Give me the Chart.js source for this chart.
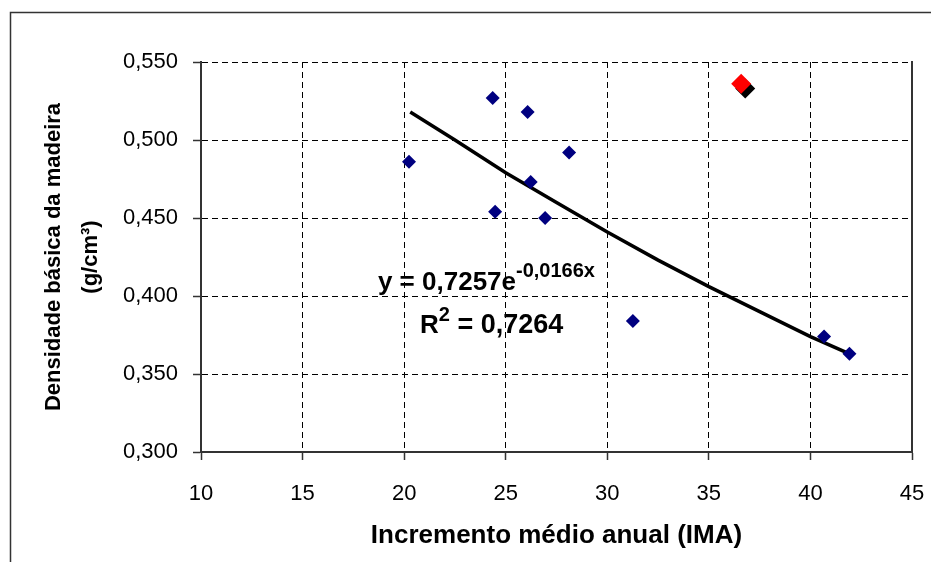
<!DOCTYPE html>
<html>
<head>
<meta charset="utf-8">
<script src="https://cdn.jsdelivr.net/npm/chart.js@4.4.1/dist/chart.umd.min.js"></script>
<style>
  html, body { margin: 0; background: #fff; }
  canvas { display: block; }
</style>
</head>
<body>
<canvas id="grafico" width="931" height="562"></canvas>
<script>
// dados (IMA x densidade básica)
const imaX  = [20.24, 24.36, 26.08, 28.12, 26.23, 24.48, 26.94, 31.26, 40.67, 41.92];
const densY = [0.486, 0.527, 0.518, 0.492, 0.473, 0.454, 0.450, 0.384, 0.374, 0.363];
// ponto destacado (vermelho) e a sua sombra preta
const destaqueX = [36.59];
const destaqueY = [0.536];
const sombraX = [36.79];
const sombraY = [0.533];
// linha de tendência exponencial, lida ao longo da curva
const tendX = [20.3, 22.5, 25, 27.5, 30, 32.5, 35, 37.5, 40, 41.9];
const tendY = [0.518, 0.500, 0.479, 0.460, 0.441, 0.423, 0.406, 0.390, 0.374, 0.363];
// eixos
const xMin = 10, xMax = 45, xPasso = 5;
const yMin = 0.300, yMax = 0.550, yPasso = 0.05;

const pares = (xs, ys) => xs.map((x, i) => ({ x, y: ys[i] }));

const TXT = 'Liberation Sans, Arial, sans-serif';

// moldura externa do gráfico
const moldura = {
  id: 'moldura',
  beforeDraw(chart) {
    const ctx = chart.ctx;
    ctx.save();
    ctx.fillStyle = '#fff';
    ctx.fillRect(0, 0, chart.width, chart.height);
    ctx.strokeStyle = '#333';
    ctx.lineWidth = 1.5;
    ctx.strokeRect(10.5, 12.5, 1000, 1000);
    ctx.restore();
  }
};

// equação e R² da tendência
const equacao = {
  id: 'equacao',
  afterDatasetsDraw(chart, args, o) {
    const ctx = chart.ctx, sx = chart.scales.x, sy = chart.scales.y;
    ctx.save();
    ctx.fillStyle = '#000';
    ctx.textBaseline = 'alphabetic';
    ctx.textAlign = 'left';
    const big = 'bold 26px ' + TXT, small = 'bold 20px ' + TXT;
    // linha 1
    let x = sx.getPixelForValue(o.l1[0]), y = sy.getPixelForValue(o.l1[1]);
    ctx.font = big;
    ctx.fillText('y = 0,7257e', x, y);
    x += ctx.measureText('y = 0,7257e').width;
    ctx.font = small;
    ctx.fillText('-0,0166x', x, y - 13);
    // linha 2
    x = sx.getPixelForValue(o.l2[0]); y = sy.getPixelForValue(o.l2[1]);
    ctx.font = big;
    ctx.fillText('R', x, y);
    x += ctx.measureText('R').width;
    ctx.font = small;
    ctx.fillText('2', x, y - 12);
    x += ctx.measureText('2').width;
    ctx.font = 'bold 27px ' + TXT;
    ctx.fillText(' = 0,7264', x, y);
    ctx.restore();
  }
};

new Chart(document.getElementById('grafico'), {
  type: 'scatter',
  data: {
    datasets: [
      { label: 'tendência', type: 'line', data: pares(tendX, tendY), borderColor: '#000', borderWidth: 3.5,
        pointRadius: 0, fill: false, tension: 0, order: 3 },
      { label: 'sombra', data: pares(sombraX, sombraY), pointStyle: 'rectRot', pointRadius: 10,
        backgroundColor: '#000', borderColor: '#000', borderWidth: 0, order: 2 },
      { label: 'amostras', data: pares(imaX, densY), pointStyle: 'rectRot', pointRadius: 7,
        backgroundColor: '#000080', borderColor: '#000080', borderWidth: 0, order: 1 },
      { label: 'destaque', data: pares(destaqueX, destaqueY), pointStyle: 'rectRot', pointRadius: 10,
        backgroundColor: '#ff0000', borderColor: '#ff0000', borderWidth: 0, order: 0 }
    ]
  },
  options: {
    responsive: false,
    animation: false,
    layout: { padding: { left: 20, top: 62, right: 0, bottom: 0 } },
    plugins: {
      legend: { display: false },
      tooltip: { enabled: false },
      equacao: { l1: [18.71, 0.4038], l2: [20.78, 0.3763] }
    },
    scales: {
      x: {
        type: 'linear', position: 'bottom', min: xMin, max: xMax,
        afterFit: s => { s.height = 110; s.paddingLeft = 0; s.paddingRight = 0; },
        ticks: { stepSize: xPasso, autoSkip: false, maxRotation: 0, padding: 21, color: '#000',
                 font: { family: TXT, size: 22 } },
        grid: { color: '#000', lineWidth: 1, tickLength: 8, tickColor: '#333', tickWidth: 1.5 },
        border: { color: '#333', width: 2, dash: [6, 4] },
        title: { display: true, text: 'Incremento médio anual (IMA)', color: '#000',
                 font: { family: TXT, size: 26, weight: 'bold', lineHeight: 1.2 }, padding: { top: 0, bottom: 11 } }
      },
      y: {
        type: 'linear', position: 'left', min: yMin, max: yMax,
        afterFit: s => { s.width = 181; s.paddingTop = 0; s.paddingBottom = 0; },
        ticks: { stepSize: yPasso, padding: 15, color: '#000',
                 font: { family: TXT, size: 22 },
                 callback: v => v.toFixed(3).replace('.', ',') },
        grid: { color: '#000', lineWidth: 1, tickLength: 8, tickColor: '#333', tickWidth: 1.5 },
        border: { color: '#333', width: 2, dash: [6, 4] },
        title: { display: true, text: ['Densidade básica da madeira', '(g/cm³)'], color: '#000',
                 font: { family: TXT, size: 22, weight: 'bold', lineHeight: 37 / 22 }, padding: { top: 15, bottom: 0 } }
      },
      y2: {
        type: 'linear', position: 'right', min: yMin, max: yMax,
        afterFit: s => { s.width = 19; },
        ticks: { display: false },
        grid: { display: false },
        border: { display: true, color: '#333', width: 2 }
      }
    }
  },
  plugins: [moldura, equacao]
});
</script>
</body>
</html>
